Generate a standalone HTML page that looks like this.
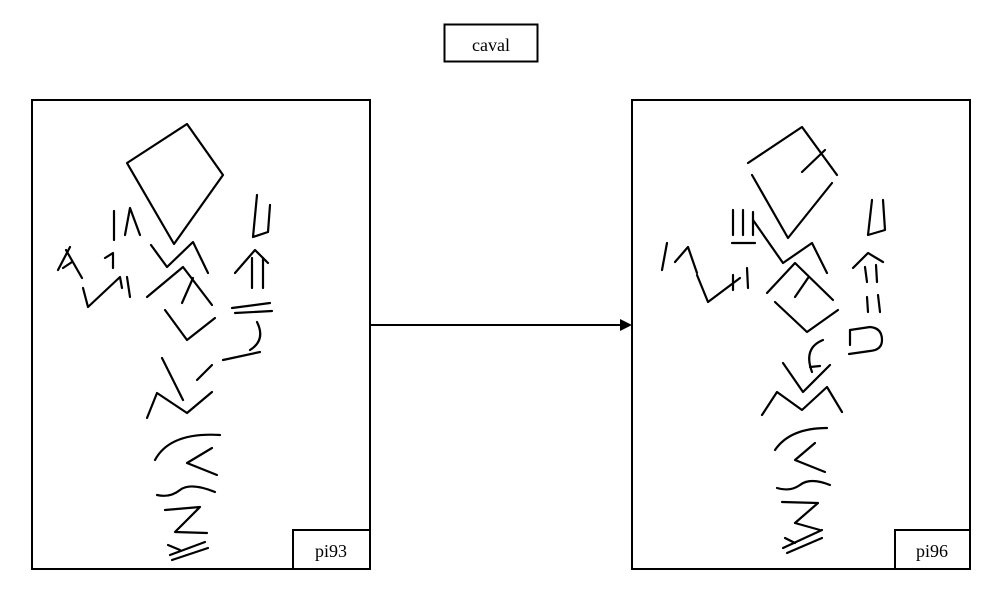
<!DOCTYPE html>
<html><head><meta charset="utf-8"><style>
html,body{margin:0;padding:0;background:#fff;}
svg{display:block;}
text{font-family:"Liberation Serif",serif;}
</style></head><body>
<svg width="1004" height="616" viewBox="0 0 1004 616" xmlns="http://www.w3.org/2000/svg">
<rect x="0" y="0" width="1004" height="616" fill="#fff"/>
<g fill="none" stroke="#000" stroke-width="2">
<rect x="444.5" y="24.5" width="93" height="37"/>
<rect x="32" y="100" width="338" height="469"/>
<rect x="293" y="530" width="77" height="39"/>
<rect x="632" y="100" width="338" height="469"/>
<rect x="895" y="530" width="75" height="39"/>
<line x1="370" y1="325" x2="620" y2="325"/>
</g>
<polygon points="620,319 632,325 620,331" fill="#000"/>
<text x="491" y="51" font-size="18" text-anchor="middle">caval</text>
<text x="331" y="557" font-size="18" text-anchor="middle">pi93</text>
<text x="932" y="557" font-size="18" text-anchor="middle">pi96</text>
<g fill="none" stroke="#000" stroke-width="2.2" stroke-linecap="round" stroke-linejoin="round">
<polygon points="127,163 187,124 223,175 174,244"/>
<line x1="114" y1="211" x2="114" y2="240"/>
<polyline points="125,235 130,208 140,235"/>
<line x1="58" y1="270" x2="70" y2="247"/>
<line x1="66" y1="250" x2="82" y2="278"/>
<line x1="63" y1="268" x2="72" y2="262"/>
<polyline points="105,258 113,253 113,268"/>
<polyline points="83,288 88,307 120,277 122,288"/>
<line x1="127" y1="277" x2="130" y2="297"/>
<polyline points="151,245 167,267 193,242 208,273"/>
<polyline points="147,297 183,267 212,305"/>
<line x1="182" y1="303" x2="193" y2="278"/>
<polyline points="165,310 187,340 215,318"/>
<polyline points="257,195 253,237 268,232 270,205"/>
<polyline points="235,273 255,250 268,263"/>
<line x1="252" y1="258" x2="252" y2="288"/>
<line x1="263" y1="258" x2="263" y2="288"/>
<line x1="232" y1="308" x2="270" y2="303"/>
<line x1="235" y1="313" x2="272" y2="311"/>
<path d="M257,322 Q266,340 250,350"/>
<line x1="223" y1="360" x2="260" y2="352"/>
<line x1="197" y1="380" x2="212" y2="365"/>
<line x1="162" y1="358" x2="183" y2="400"/>
<polyline points="147,418 157,393 187,413 212,392"/>
<path d="M155,460 Q170,432 220,435"/>
<polyline points="212,448 187,463 217,475"/>
<path d="M157,495 Q170,498 180,490 Q190,482 215,492"/>
<polyline points="165,510 200,507 175,532 207,533"/>
<line x1="170" y1="555" x2="205" y2="542"/>
<line x1="172" y1="560" x2="208" y2="548"/>
<line x1="168" y1="545" x2="180" y2="550"/>
<polyline points="748,163 802,127 837,175"/>
<line x1="802" y1="172" x2="825" y2="150"/>
<polyline points="752,175 788,238 832,183"/>
<line x1="733" y1="210" x2="733" y2="235"/>
<line x1="743" y1="210" x2="743" y2="235"/>
<line x1="753" y1="212" x2="753" y2="235"/>
<line x1="732" y1="243" x2="755" y2="243"/>
<polyline points="753,220 783,263 812,243 827,273"/>
<line x1="667" y1="243" x2="662" y2="270"/>
<polyline points="675,262 688,247 697,273"/>
<polyline points="697,275 708,302 740,278"/>
<line x1="733" y1="275" x2="733" y2="290"/>
<line x1="747" y1="268" x2="748" y2="288"/>
<polyline points="767,293 795,263 833,300"/>
<line x1="795" y1="297" x2="808" y2="278"/>
<polyline points="775,302 807,332 838,310"/>
<polyline points="872,200 868,235 885,230 883,200"/>
<polyline points="853,268 868,253 883,262"/>
<line x1="865" y1="267" x2="867" y2="282"/>
<line x1="876" y1="265" x2="877" y2="282"/>
<line x1="867" y1="297" x2="868" y2="312"/>
<line x1="878" y1="295" x2="880" y2="312"/>
<path d="M850,330 L870,327 Q882,328 882,340 Q882,350 870,351 L849,354"/>
<line x1="850" y1="330" x2="850" y2="345"/>
<path d="M823,340 Q803,348 812,372"/>
<line x1="810" y1="367" x2="820" y2="366"/>
<polyline points="783,363 803,392 830,365"/>
<polyline points="762,415 777,392 802,410 827,387 842,412"/>
<path d="M775,450 Q790,428 827,428"/>
<polyline points="815,443 795,460 825,472"/>
<path d="M777,488 Q790,492 800,485 Q810,477 830,485"/>
<polyline points="782,502 818,503 795,523 820,530"/>
<line x1="783" y1="548" x2="822" y2="530"/>
<line x1="787" y1="553" x2="822" y2="538"/>
<line x1="785" y1="538" x2="795" y2="543"/>
</g>
</svg>
</body></html>
